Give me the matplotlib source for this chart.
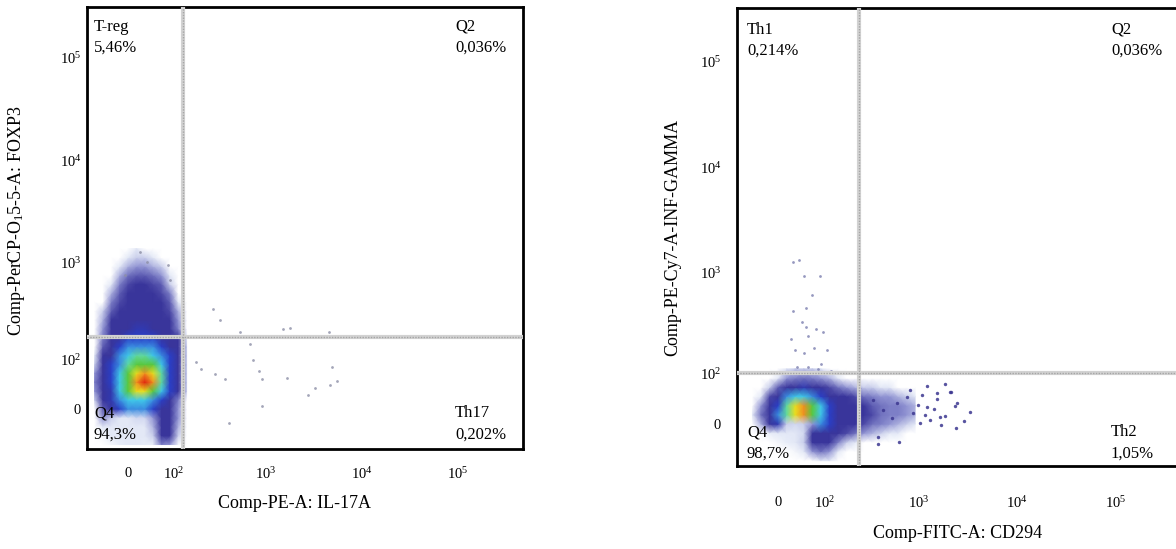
import numpy as np
import matplotlib
matplotlib.use("Agg")
import matplotlib.pyplot as plt
from matplotlib.colors import LinearSegmentedColormap

plt.rcParams['font.family'] = ['Liberation Serif', 'DejaVu Serif']
plt.rcParams['mathtext.fontset'] = 'custom'
plt.rcParams['mathtext.rm'] = 'Liberation Serif'
plt.rcParams['mathtext.it'] = 'Liberation Serif:italic'

# ---------------- data ----------------
tick_values = [0, 100, 1000, 10000, 100000]
tick_labels = ['$0$', '$10^2$', '$10^3$', '$10^4$', '$10^5$']

# Left panel: FOXP3 vs IL-17A
left_xlabel = 'Comp-PE-A: IL-17A'
left_ylabel = 'Comp-PerCP-O$_1$5-5-A: FOXP3'
left_quadrants = [('T-reg', '5,46%'), ('Q2', '0,036%'), ('Q4', '94,3%'), ('Th17', '0,202%')]
left_gate_x = 130
left_gate_y = 181
left_grid_x = [-66.6, -47.8, -30.8, -15.1, 0, 15.1, 30.8, 47.8, 66.6, 88.1, 113.2, 142.8]
left_grid_y = [-66.6, -47.8, -30.8, -15.1, 0, 15.1, 30.8, 47.8, 66.6, 88.1, 113.2, 142.8,
               178.2, 220.7, 272.0, 334.3, 410.0, 502.1, 614.4, 751.3, 918.5, 1122, 1371]
left_density = [
    [0, 0, 0.1, 0.15, 0.2, 0.2, 0.15, 0.15, 0.6, 0.5, 0.1, 0],
    [0, 0.1, 0.2, 0.2, 0.2, 0.2, 0.2, 0.3, 1, 1, 0.3, 0],
    [0, 0.2, 0.2, 0.2, 0.2, 0.2, 0.2, 0.4, 1, 1, 0.4, 0],
    [0, 0.5, 0.3, 0.2, 0.2, 0.25, 0.25, 0.5, 1, 1, 0.5, 0],
    [0, 0.8, 1, 2, 3, 3, 3, 2, 1, 1, 0.5, 0],
    [0.3, 1, 1.5, 3, 4, 4, 4, 3, 2, 1, 0.6, 0],
    [0.5, 1, 1.5, 4, 6, 7, 7, 6, 4, 2, 1, 0.3],
    [0.6, 1, 2, 4, 6, 8, 9, 8, 5, 2, 1, 0.3],
    [0.5, 1, 2, 4, 6, 7, 8, 7, 5, 2, 1, 0.3],
    [0.3, 1, 2, 3, 5, 6, 6, 6, 4, 2, 1, 0.3],
    [0.2, 1, 1, 3, 4, 5, 5, 4, 3, 2, 1, 0.3],
    [0, 0.8, 1, 2, 3, 3, 3, 3, 2, 1, 1, 0.3],
    [0, 0.6, 1, 1, 2, 2, 2, 2, 1, 1, 1, 0.2],
    [0, 0.5, 1, 1, 1, 1.5, 1.5, 1, 1, 1, 0.6, 0],
    [0, 0.4, 1, 1, 1, 1, 1, 1, 1, 1, 0.5, 0],
    [0, 0.3, 0.8, 1, 1, 1, 1, 1, 1, 0.9, 0.4, 0],
    [0, 0, 0.6, 0.9, 1, 1, 1, 1, 1, 0.8, 0.2, 0],
    [0, 0, 0.4, 0.8, 1, 1, 1, 1, 0.9, 0.6, 0, 0],
    [0, 0, 0.2, 0.6, 0.9, 1, 1, 0.9, 0.8, 0.3, 0, 0],
    [0, 0, 0, 0.4, 0.7, 0.8, 0.8, 0.7, 0.5, 0.2, 0, 0],
    [0, 0, 0, 0.2, 0.4, 0.5, 0.5, 0.4, 0.3, 0, 0, 0],
    [0, 0, 0, 0, 0.2, 0.3, 0.3, 0.2, 0, 0, 0, 0],
    [0, 0, 0, 0, 0, 0.2, 0, 0, 0, 0, 0, 0],
]
left_events_x = [281, 334, 1530, 4600, 693, 744, 857, 927, 1680, 3280, 4700, 5560, 4940,
                 2790, 927, 418, 295, 209, 184, 378, 544, 1815, 22, 35, 83, -5, 88]
left_events_y = [352, 272, 221, 205, 152, 100, 72, 54, 57, 37, 42, 50, 82,
                 24, 5, -24, 65, 77, 95, 54, 205, 225, 1280, 1015, 950, 760, 680]

# Right panel: INF-GAMMA vs CD294
right_xlabel = 'Comp-FITC-A: CD294'
right_ylabel = 'Comp-PE-Cy7-A-INF-GAMMA'
right_quadrants = [('Th1', '0,214%'), ('Q2', '0,036%'), ('Q4', '98,7%'), ('Th2', '1,05%')]
right_gate_x = 245
right_gate_y = 102
right_grid_x = [-47.8, -30.8, -15.1, 0, 15.1, 30.8, 47.8, 66.6, 88.1, 113.2, 142.8, 178.2,
                220.7, 272.0, 334.3, 410.0, 502.1, 614.4, 751.3, 918.5]
right_grid_y = [-66.6, -47.8, -30.8, -15.1, 0, 15.1, 30.8, 47.8, 66.6, 88.1, 113.2]
right_density = [
    [0, 0, 0, 0, 0, 0, 0, 0, 0.2, 0.2, 0, 0, 0, 0, 0, 0, 0, 0, 0, 0],
    [0, 0, 0, 0, 0, 0.1, 0.2, 0.5, 0.7, 0.5, 0.2, 0, 0, 0, 0, 0, 0, 0, 0, 0],
    [0, 0, 0, 0.1, 0.15, 0.2, 0.3, 1, 1, 1, 0.6, 0.3, 0.2, 0, 0, 0, 0, 0, 0, 0],
    [0, 0, 0.15, 0.2, 0.2, 0.2, 0.25, 1, 1, 1, 1, 0.9, 0.7, 0.5, 0.4, 0.3, 0.2, 0.2, 0, 0],
    [0, 0.4, 1, 1.5, 0.3, 0.25, 0.3, 0.5, 3, 2, 1, 1, 1, 0.9, 0.7, 0.6, 0.5, 0.4, 0.3, 0.2],
    [0.2, 0.7, 1, 3, 5, 7, 8, 6, 4, 2, 1, 1, 1, 1, 0.9, 0.7, 0.6, 0.6, 0.5, 0.4],
    [0, 0.5, 1, 2, 5, 7, 8, 6, 4, 2, 1, 1, 1, 1, 0.8, 0.7, 0.6, 0.6, 0.5, 0.4],
    [0, 0.2, 0.9, 1, 3, 4, 4, 3, 2, 1, 1, 1, 0.9, 0.7, 0.6, 0.5, 0.5, 0.4, 0.3, 0.2],
    [0, 0, 0.3, 0.8, 1, 1, 1.5, 1, 1, 0.9, 0.7, 0.5, 0.4, 0.3, 0.3, 0.2, 0.2, 0, 0, 0],
    [0, 0, 0, 0.2, 0.5, 0.6, 0.7, 0.6, 0.5, 0.4, 0.2, 0, 0, 0, 0, 0, 0, 0, 0, 0],
    [0, 0, 0, 0, 0.2, 0.3, 0.3, 0.3, 0.2, 0, 0, 0, 0, 0, 0, 0, 0, 0, 0, 0],
]
right_upper_x = [27, 38, 48, 86, 66, 53, 27, 44, 53, 76, 95, 23, 57, 71, 106, 48, 34, 57, 81, 89, 119, 31]
right_upper_y = [1280, 1336, 937, 937, 620, 468, 436, 341, 305, 292, 272, 233, 250, 190, 180, 168,
                 119, 119, 113, 128, 107, 180]
right_tail_x = [2130, 1530, 1850, 2350, 2900, 2400, 1305, 1430, 1080, 1695, 385, 385, 633, 242,
                990, 1157, 817, 1215, 1850, 3340, 341, 433, 535, 602, 761, 875, 1033, 1217,
                1540, 1650, 2085, 2450]
right_tail_y = [57, 43, 13, 30, 5, -6, 6, 25, 51, -2, -21, -34, -30, 65,
                32, 15, 61, 70, 74, 20, 41, 23, 10, 36, 47, 18, 2, 28,
                55, 11, 57, 36]

# ---------------- styling ----------------
flow_cmap = LinearSegmentedColormap.from_list('flow', [
    (0.0, '#ffffff'), (0.2 / 9, '#dfe5f5'), (0.5 / 9, '#8f92d2'), (1 / 9, '#37339a'),
    (2 / 9, '#2a3fc8'), (3 / 9, '#3a8ce0'), (4 / 9, '#40c8e8'), (5 / 9, '#60d8a0'),
    (6 / 9, '#58c840'), (7 / 9, '#e8e020'), (8 / 9, '#f09020'), (1.0, '#e02010')])

COF = 75.0
def fwd(v):
    return np.arcsinh(np.asarray(v, dtype=float) / COF)
def inv(t):
    return COF * np.sinh(np.asarray(t, dtype=float))

W, H = 1176, 549
fig = plt.figure(figsize=(W / 100, H / 100), dpi=100)

def px_axes(x0, y0, x1, y1):
    return fig.add_axes([x0 / W, 1 - y1 / H, (x1 - x0) / W, (y1 - y0) / H])

def setup(ax, xlim, ylim, xpad, ypad):
    ax.set_xscale('function', functions=(fwd, inv))
    ax.set_yscale('function', functions=(fwd, inv))
    ax.set_xlim(*xlim)
    ax.set_ylim(*ylim)
    ax.set_xticks(tick_values)
    ax.set_xticklabels(tick_labels)
    ax.set_yticks(tick_values)
    ax.set_yticklabels(tick_labels)
    ax.minorticks_off()
    ax.tick_params(axis='x', length=0, pad=xpad, labelsize=10.5)
    ax.tick_params(axis='y', length=0, pad=ypad, labelsize=10.5)
    for s in ax.spines.values():
        s.set_linewidth(2.0)
        s.set_color('black')

def gates(ax, gx, gy):
    for f, kw in ((ax.axvline, dict(x=gx)), (ax.axhline, dict(y=gy))):
        f(**kw, color='#d2d2d2', lw=3.0, zorder=3)
        f(**kw, color='#a5a5a5', lw=1.0, ls=(0, (1, 1)), zorder=4)

def quad_text(ax, labels, xl, xr, yt1, yt2, yb1, yb2):
    (tl, tlv), (tr, trv), (bl, blv), (br, brv) = labels
    kw = dict(transform=ax.transAxes, fontsize=12, va='center', ha='left', zorder=6)
    ax.text(xl, yt1, tl, **kw); ax.text(xl, yt2, tlv, **kw)
    ax.text(xr, yt1, tr, **kw); ax.text(xr, yt2, trv, **kw)
    ax.text(xl, yb1, bl, **kw); ax.text(xl, yb2, blv, **kw)
    ax.text(xr, yb1, br, **kw); ax.text(xr, yb2, brv, **kw)

# ---- left panel ----
axL = px_axes(87, 7, 523, 449)
setup(axL, (-86, 473000), (-77, 311000), 12, 4)
axL.pcolormesh(left_grid_x, left_grid_y, np.array(left_density), cmap=flow_cmap,
               vmin=0, vmax=9, shading='gouraud', zorder=1, rasterized=True)
axL.scatter(left_events_x, left_events_y, s=4, color='#8d8fa6', alpha=0.8, lw=0, zorder=2)
gates(axL, left_gate_x, left_gate_y)
quad_text(axL, left_quadrants, 0.016, 0.844, 0.955, 0.907, 0.0814, 0.0317)
fig.text(294 / W, 1 - 503 / H, left_xlabel, ha='center', va='center', fontsize=13)
fig.text(17 / W, 1 - 221 / H, left_ylabel, ha='center', va='center', fontsize=13, rotation=90)

# ---- right panel ----
axR = px_axes(737, 8, 1188, 466)
setup(axR, (-83.5, 539000), (-78.6, 320000), 21, 11)
axR.pcolormesh(right_grid_x, right_grid_y, np.array(right_density), cmap=flow_cmap,
               vmin=0, vmax=9, shading='gouraud', zorder=1, rasterized=True)
axR.scatter(right_upper_x, right_upper_y, s=4, color='#7c7fb0', alpha=0.8, lw=0, zorder=2)
axR.scatter(right_tail_x, right_tail_y, s=6, color='#3b3690', alpha=0.85, lw=0, zorder=2)
gates(axR, right_gate_x, right_gate_y)
quad_text(axR, right_quadrants, 0.022, 0.829, 0.952, 0.906, 0.074, 0.028)
fig.text(958 / W, 1 - 533 / H, right_xlabel, ha='center', va='center', fontsize=13)
fig.text(673 / W, 1 - 237 / H, right_ylabel, ha='center', va='center', fontsize=13, rotation=90)

fig.savefig('out.png', dpi=100)
